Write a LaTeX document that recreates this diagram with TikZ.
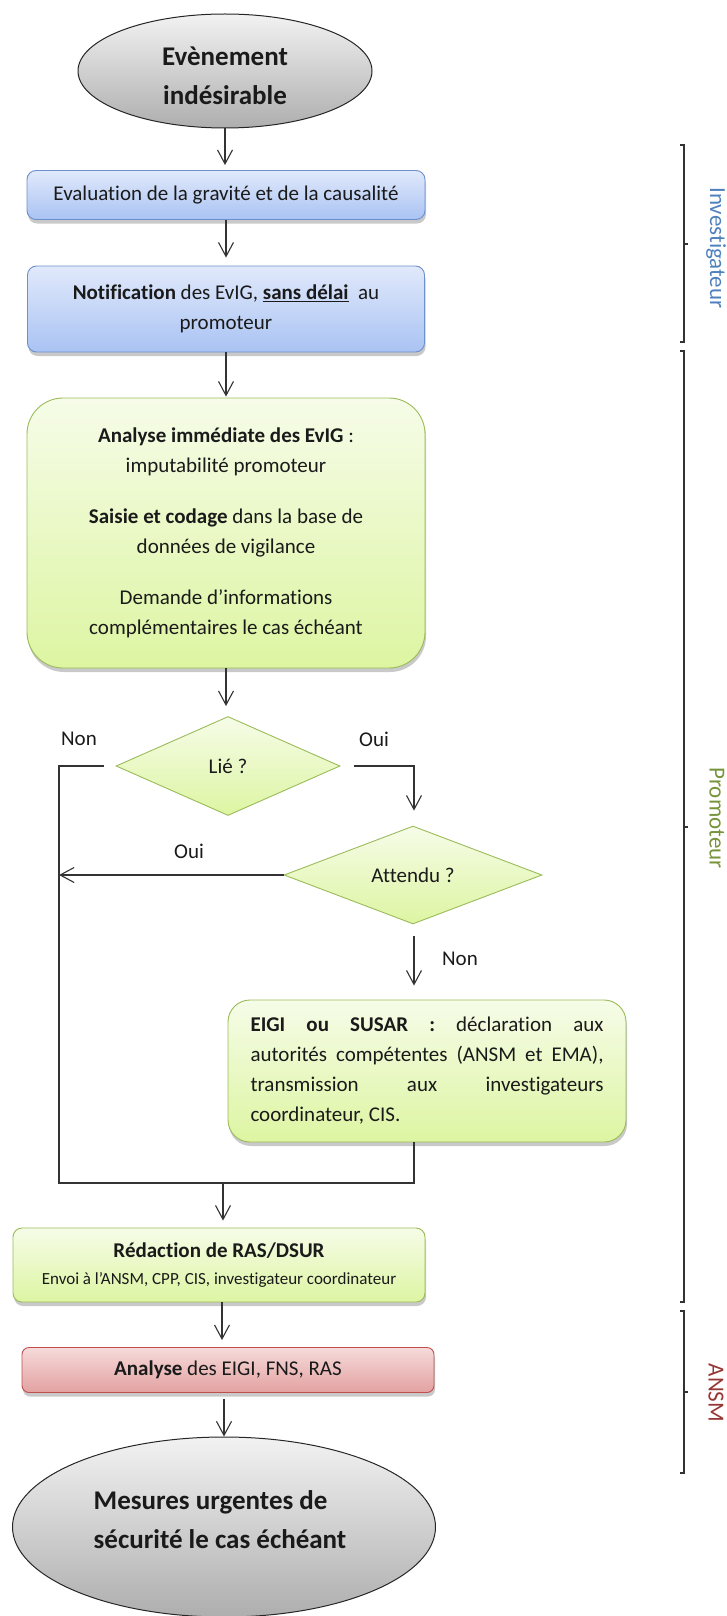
\documentclass[tikz,border=0pt]{standalone}
\usepackage{fontspec}
\setmainfont{Carlito}[Ligatures={NoCommon}]
\usetikzlibrary{shapes.geometric,arrows.meta,shadows}
\definecolor{linec}{HTML}{333333}
\definecolor{textc}{HTML}{1A1A1A}
\definecolor{bluetop}{HTML}{E1E9FB}
\definecolor{bluebot}{HTML}{A9C3F3}
\definecolor{blueborder}{HTML}{6D8FCB}
\definecolor{greentop}{HTML}{F6FCE8}
\definecolor{greenbot}{HTML}{DDF5A2}
\definecolor{greenborder}{HTML}{9BBB59}
\definecolor{redtop}{HTML}{F6DADA}
\definecolor{redbot}{HTML}{E3A1A1}
\definecolor{redborder}{HTML}{C0504D}
\definecolor{graytop}{HTML}{F2F2F2}
\definecolor{graybot}{HTML}{AEAEAE}
\definecolor{invc}{HTML}{4F81BD}
\definecolor{proc}{HTML}{77933C}
\definecolor{ansmc}{HTML}{953735}
\begin{document}
\begin{tikzpicture}[x=1pt,y=-1pt,
  conn/.style={draw=linec, line width=1.1pt},
  arr/.style={conn, -{Straight Barb[length=14pt,width=15pt,line width=1.1pt]}},
  brk/.style={draw=linec, line width=1.1pt},
  shad/.style={drop shadow={shadow xshift=1pt, shadow yshift=-4pt, opacity=0.3, fill=black!70}},
  basebox/.style={rectangle, inner sep=0pt, align=center, text=textc,
    font=\fontsize{21}{30}\selectfont, line width=0.9pt, shad},
  bluebox/.style={basebox, rounded corners=9pt, draw=blueborder, top color=bluetop, bottom color=bluebot},
  greenbox/.style={basebox, draw=greenborder, top color=greentop, bottom color=greenbot},
  redbox/.style={basebox, rounded corners=7pt, draw=redborder, top color=redtop, bottom color=redbot},
  decision/.style={diamond, inner sep=0pt, draw=greenborder, line width=0.9pt, top color=greentop, bottom color=greenbot,
    text=textc, font=\fontsize{21}{30}\selectfont},
  terminal/.style={ellipse, inner sep=0pt, draw=black!85, line width=1pt, top color=graytop, bottom color=graybot,
    text=textc, align=center},
  termtext/.style={text=textc, inner sep=0pt, font=\bfseries\fontsize{27}{38.5}\selectfont},
  lbl/.style={text=textc, font=\fontsize{21}{30}\selectfont, inner sep=0pt},
  side/.style={rotate=-90, inner sep=0pt, font=\fontsize{23}{23}\selectfont}
]
\useasboundingbox (0,0) rectangle (726,1616);

% nodes
\node[terminal, minimum width=294pt, minimum height=114pt] (ev) at (225,71) {};
\node[termtext, align=center] (evtxt) at (225,76) {Evènement\\indésirable};
\node[bluebox, minimum width=398pt, minimum height=49pt] (eval) at (226,195) {Evaluation de la gravité et de la causalité};
\node[bluebox, minimum width=397pt, minimum height=86pt] (notif) at (226,309) {\textbf{Notification} des EvIG, \underline{\textbf{sans délai}}\ \ au\\promoteur};
\node[greenbox, rounded corners=36pt, minimum width=398pt, minimum height=270pt] (anal) at (226,533)
  {\textbf{Analyse immédiate des EvIG} :\\imputabilité promoteur\\[21pt]
   \textbf{Saisie et codage} dans la base de\\données de vigilance\\[21pt]
   Demande d’informations\\complémentaires le cas échéant};
\node[decision, minimum width=224pt, minimum height=99pt] (lie) at (228,766) {Lié ?};
\node[decision, minimum width=258pt, minimum height=94pt] (att) at (413,875) {Attendu ?};
\node[greenbox, rounded corners=22pt, minimum width=398pt, minimum height=142pt, text width=353pt, align=justify] (eigi) at (427,1071)
  {\textbf{EIGI ou SUSAR :} déclaration aux\linebreak autorités compétentes (ANSM et EMA),\linebreak transmission aux investigateurs\linebreak coordinateur, CIS.};
\node[greenbox, rounded corners=9pt, minimum width=412pt, minimum height=74pt] (redac) at (219,1265)
  {\textbf{Rédaction de RAS/DSUR}\\[-3pt]{\fontsize{17}{22}\selectfont Envoi à l’ANSM, CPP, CIS, investigateur coordinateur}};
\node[redbox, minimum width=412pt, minimum height=45pt] (ana) at (228,1370) {\textbf{Analyse} des EIGI, FNS, RAS};
\node[terminal, minimum width=423pt, minimum height=180pt] (mes) at (224,1527) {};
\node[termtext, align=left, font=\bfseries\fontsize{27}{39}\selectfont] (mestxt) at (220,1520) {Mesures urgentes de\\sécurité le cas échéant};

% labels
\node[lbl] (non1) at (79,739) {Non};
\node[lbl] (oui1) at (374,739) {Oui};
\node[lbl] (oui2) at (189,851) {Oui};
\node[lbl] (non2) at (460,959) {Non};

% join coordinates
\coordinate (jl) at (59,1183);
\coordinate (jr) at (414,1183);
\coordinate (jm) at (223,1183);

% connectors
\draw[arr, shorten >=5pt] (ev.south) -- (ev.south |- eval.north);
\draw[arr, shorten >=8pt] (eval.south) -- (eval.south |- notif.north);
\draw[arr, shorten >=1pt] (notif.south) -- (notif.south |- anal.north);
\draw[arr, shorten >=10pt] (anal.south) -- (anal.south |- lie.north);
\draw[conn, shorten <=12pt] (lie.west) -- (lie.west -| jl) -- (jl) -- (jr) -- (jr |- eigi.south);
\draw[arr, shorten <=14pt, shorten >=15pt] (lie.east) -- (lie.east -| jr) -- (jr |- att.north);
\draw[arr] (att.west) -- (att.west -| jl);
\draw[arr, shorten <=12pt, shorten >=14pt] (jr |- att.south) -- (jr |- eigi.north);
\draw[arr, shorten >=7pt] (jm) -- (jm |- redac.north);
\draw[arr, shorten >=7pt] (redac.south -| ana.north) ++(-6,0) coordinate (ra) (ra) -- (ra |- ana.north);
\draw[arr, shorten <=6pt] (mes.north |- ana.south) -- (mes.north);

% side brackets
\draw[brk] (680,145) -- (684,145) -- (684,342) -- (680,342);
\draw[brk] (684,244) -- (688,244);
\draw[brk] (680,351) -- (684,351) -- (684,1302) -- (680,1302);
\draw[brk] (684,827) -- (688,827);
\draw[brk] (680,1311) -- (684,1311) -- (684,1473) -- (680,1473);
\draw[brk] (684,1392) -- (688,1392);
\node[side, text=invc] (inv) at (716,248) {Investigateur};
\node[side, text=proc] (pro) at (717,818) {Promoteur};
\node[side, text=ansmc] (ansm) at (716,1393) {ANSM};
\end{tikzpicture}
\end{document}
